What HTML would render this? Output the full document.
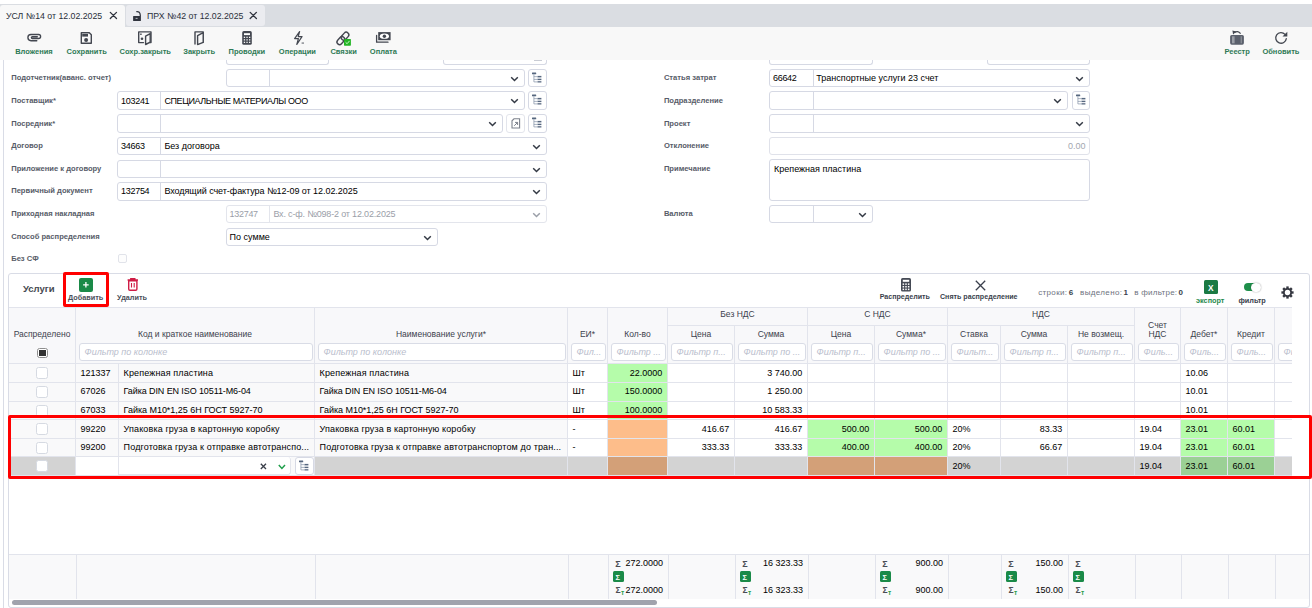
<!DOCTYPE html>
<html><head><meta charset="utf-8">
<style>
*{box-sizing:border-box;margin:0;padding:0}
html,body{width:1312px;height:608px;overflow:hidden;background:#fff;font-family:"Liberation Sans",sans-serif;color:#111}
.a{position:absolute}
.t{position:absolute;white-space:nowrap;line-height:1}
/* tabs */
#tabbar{position:absolute;left:0;top:4px;width:1312px;height:23px;background:#dadde2}
#tab1{position:absolute;left:0;top:5px;width:125px;height:22px;background:#f8f8f8;border-radius:3px 3px 0 0}
#tab2{position:absolute;left:126px;top:5px;width:139px;height:21px;background:#ebecf0;border-radius:3px}
.tabt{font-size:8.75px;color:#2a2f3a}
/* toolbar */
#toolbar{position:absolute;left:0;top:27px;width:1312px;height:33px;background:#f8f8f8}
.tbl{font-size:7.5px;font-weight:700;color:#2e7a55}
/* content */
#leftline{position:absolute;left:3px;top:60px;width:1px;height:548px;background:#d9dce6}
.lbl{font-size:7.6px;font-weight:700;color:#575c68}
.box{position:absolute;border:1px solid #d6d9e4;border-radius:3px;background:#fff}
.dv{position:absolute;top:0;bottom:0;width:1px;background:#d6d9e4}
.it{font-size:9px;color:#000}
.chev{position:absolute;width:8px;height:5px}
.hl{font-weight:400;color:#3c414d}
.fi{border:1px solid #d9dce6;border-radius:3px;background:#fff}
.ph{font-size:9px;font-style:italic;color:#b9bdcc}
.dt{font-size:9px;color:#000}
</style></head><body>
<div id="tabbar"></div>
<div id="tab1"></div>
<div id="tab2"></div>
<div class="t tabt" style="left:6px;top:12px">УСЛ №14 от 12.02.2025</div>
<div class="t tabt" style="left:147px;top:12px">ПРХ №42 от 12.02.2025</div>

<svg class="a" style="left:0;top:0" width="400" height="30" viewBox="0 0 400 30">
<g stroke="#2f333d" stroke-width="1.3" stroke-linecap="round">
<path d="M110.3 12.4 L116.5 18.5 M116.5 12.4 L110.3 18.5"/>
<path d="M250.2 12.4 L256.4 18.5 M256.4 12.4 L250.2 18.5"/>
</g>
<rect x="133.1" y="16" width="7.8" height="4.9" rx="0.5" fill="#2f333d"/>
<rect x="135.6" y="17.9" width="2" height="0.9" fill="#c8cad0"/>
<path d="M136.3 11.6 q3.8 -0.6 4 3.8 v1" fill="none" stroke="#2f333d" stroke-width="1.2"/>
</svg>
<div id="toolbar"></div>
<div id="leftline"></div>
<div class="t tbl" style="left:15.2px;top:47.9px">Вложения</div>
<div class="t tbl" style="left:66.6px;top:47.9px">Сохранить</div>
<div class="t tbl" style="left:119.5px;top:47.9px">Сохр.закрыть</div>
<div class="t tbl" style="left:183.2px;top:47.9px">Закрыть</div>
<div class="t tbl" style="left:228.5px;top:47.9px">Проводки</div>
<div class="t tbl" style="left:278.8px;top:47.9px">Операции</div>
<div class="t tbl" style="left:330.4px;top:47.9px">Связки</div>
<div class="t tbl" style="left:369.8px;top:47.9px">Оплата</div>
<div class="t tbl" style="left:1224.4px;top:47.9px">Реестр</div>
<div class="t tbl" style="left:1262.4px;top:47.9px">Обновить</div>
<svg class="a" style="left:0;top:0" width="1312" height="608" viewBox="0 0 1312 608">
<g fill="none" stroke="#434750" stroke-width="1.4" stroke-linecap="round" stroke-linejoin="round">
 <!-- paperclip -->
 <path d="M36.8 40.7 H31 a3.1 3.1 0 0 1 0 -6.2 H38.6 a2 2 0 0 1 0 4 H32.3 a0.9 0.9 0 0 1 0 -1.8 H37.3" stroke-width="1.35"/>
 <!-- save -->
 <path d="M81.3 32.7 H89.3 L91.3 34.7 V43.2 H81.3 Z"/>
 <!-- sohr zakryt frame -->
 <path d="M143.5 42.6 H138.7 V31.9 H151 V42.6 H149.8"/>
 <path d="M145.6 36.1 L150.2 33.6 V42.2 L145.6 44.5 Z" fill="#f8f8f8"/>
 <!-- zakryt -->
 <path d="M195 44 V31.9 H203.2 V42.3"/>
 <path d="M197.6 35.6 L203.2 32.6 V42.3 L197.6 44.6 Z" fill="#f8f8f8"/>
 <!-- bolt -->
 <path d="M299.6 31.6 L294.6 38.6 H298.4 L296.8 44.5 L302 36.6 H298.2 Z" stroke-width="1.2"/>
 <!-- link -->
 <rect x="-4.4" y="-2.6" width="8.8" height="5.2" rx="2.6" transform="translate(345 36.2) rotate(-48)" stroke-width="1.4"/>
 <rect x="-4.4" y="-2.6" width="8.8" height="5.2" rx="2.6" transform="translate(340.8 40.6) rotate(-48)" stroke-width="1.4"/>
 <!-- money back -->
 <path d="M376.6 35.5 V42.2 H388" stroke-width="1.3"/>
 <!-- refresh -->
 <path d="M1286.3 38.6 a5.3 5.3 0 1 1 -1.3 -4.2" stroke-width="1.3"/>
</g>
<g fill="#434750">
 <rect x="82.2" y="34" width="5.8" height="2.6"/>
 <circle cx="86.1" cy="40" r="2"/>
 <!-- sohr.zakryt inner save -->
 <rect x="140" y="33.6" width="1.8" height="1.2"/>
 <circle cx="142" cy="38.8" r="1.3"/>
 <!-- calc -->
 <rect x="242.2" y="31.1" width="9.6" height="13.7" rx="1.6"/>
 <rect x="301.6" y="42.6" width="2.4" height="0.9"/>
 <!-- money front -->
 <rect x="378.2" y="32.1" width="12.4" height="8.1"/>
 <!-- reestr -->
 <rect x="1230.1" y="35" width="13.8" height="9.7" rx="1.6" fill="#5b606c"/>
 <path d="M1232.4 30.6 L1236.3 31.5 L1233.1 34.5 Z"/>
 <path d="M1234.6 32.6 Q1237.6 30 1240.6 33.7" fill="none" stroke="#434750" stroke-width="1.3"/>
 <path d="M1287.3 31.8 v4.8 h-4.8 z"/>
</g>
<g fill="#f8f8f8">
 <rect x="244" y="33.2" width="6" height="1.9" fill="#fff"/>
 <rect x="243.8" y="36.7" width="1.3" height="1.3"/><rect x="246.4" y="36.7" width="1.3" height="1.3"/><rect x="249" y="36.7" width="1.3" height="1.3"/>
 <rect x="243.8" y="39.2" width="1.3" height="1.3"/><rect x="246.4" y="39.2" width="1.3" height="1.3"/><rect x="249" y="39.2" width="1.3" height="1.3"/>
 <rect x="243.8" y="41.7" width="1.3" height="1.3"/><rect x="246.4" y="41.7" width="1.3" height="1.3"/><rect x="249" y="41.7" width="1.3" height="1.3"/>
 <ellipse cx="384.4" cy="36.2" rx="4.6" ry="2.6" fill="#fff"/>
 <rect x="1232" y="36.3" width="2.6" height="7" fill="#9a9ea6"/>
 <rect x="1240.7" y="36.3" width="1" height="7" fill="#9a9ea6"/>
</g>
<circle cx="384.4" cy="36.2" r="1.7" fill="#434750"/>
<rect x="344" y="38.9" width="6.9" height="6.8" rx="0.6" fill="#22b524"/>
<path d="M345.6 42.3 l1.5 1.4 l2.4 -2.8" fill="none" stroke="#c9f5c9" stroke-width="1"/>
</svg>


<div class="box" style="left:226px;top:60px;width:103px;height:5px;border-top:none;border-radius:0 0 3px 3px"></div>
<div class="box" style="left:443px;top:60px;width:104px;height:5px;border-top:none;border-radius:0 0 3px 3px"></div>
<div class="box" style="left:769px;top:60px;width:104px;height:5px;border-top:none;border-radius:0 0 3px 3px"></div>
<div class="box" style="left:987px;top:60px;width:103px;height:5px;border-top:none;border-radius:0 0 3px 3px"></div>
<div class="a" style="left:533.5px;top:59.6px;width:8px;height:0.9px;background:#c9ccd4"></div>
<div class="t lbl" style="left:11.20px;top:74.04px;font-size:7.6px;">Подотчетник(аванс. отчет)</div>
<div class="t lbl" style="left:11.20px;top:97.04px;font-size:7.6px;">Поставщик*</div>
<div class="t lbl" style="left:11.20px;top:120.04px;font-size:7.6px;">Посредник*</div>
<div class="t lbl" style="left:11.20px;top:142.04px;font-size:7.6px;">Договор</div>
<div class="t lbl" style="left:11.20px;top:165.04px;font-size:7.6px;">Приложение к договору</div>
<div class="t lbl" style="left:11.20px;top:187.04px;font-size:7.6px;">Первичный документ</div>
<div class="t lbl" style="left:11.20px;top:210.04px;font-size:7.6px;">Приходная накладная</div>
<div class="t lbl" style="left:11.20px;top:233.04px;font-size:7.6px;">Способ распределения</div>
<div class="t lbl" style="left:11.20px;top:255.04px;font-size:7.6px;">Без СФ</div>
<div class="box" style="left:226px;top:69px;width:299px;height:18px;"></div>
<div class="a" style="left:269px;top:69px;width:1px;height:18px;background:#d6d9e4"></div>
<svg class="a" style="left:510.00px;top:75.60px" width="9" height="6" viewBox="0 0 9 6"><path d="M1.2 1.3 L4.5 4.5 L7.8 1.3" fill="none" stroke="#333944" stroke-width="1.5"/></svg>
<div class="box" style="left:528px;top:69px;width:19px;height:18px;"></div>
<svg class="a" style="left:531.70px;top:72.40px" width="11" height="12" viewBox="0 0 11 12"><g fill="#56677f"><rect x="0" y="0.6" width="4.2" height="1.6" rx="0.3"/><rect x="5.5" y="3.9" width="3.9" height="1.5"/><rect x="5.5" y="6.7" width="3.9" height="1.4"/><rect x="5.5" y="9.2" width="3.9" height="1.3"/></g><g stroke="#8391a6" stroke-width="0.7" fill="none"><path d="M1.9 2.2 V9.9 H5.5 M1.9 4.65 H5.5 M1.9 7.4 H5.5"/></g></svg>
<div class="box" style="left:117px;top:91px;width:408px;height:19px;"></div>
<div class="a" style="left:160px;top:91px;width:1px;height:19px;background:#d6d9e4"></div>
<svg class="a" style="left:510.00px;top:98.10px" width="9" height="6" viewBox="0 0 9 6"><path d="M1.2 1.3 L4.5 4.5 L7.8 1.3" fill="none" stroke="#333944" stroke-width="1.5"/></svg>
<div class="box" style="left:528px;top:91px;width:19px;height:19px;"></div>
<svg class="a" style="left:531.70px;top:94.40px" width="11" height="12" viewBox="0 0 11 12"><g fill="#56677f"><rect x="0" y="0.6" width="4.2" height="1.6" rx="0.3"/><rect x="5.5" y="3.9" width="3.9" height="1.5"/><rect x="5.5" y="6.7" width="3.9" height="1.4"/><rect x="5.5" y="9.2" width="3.9" height="1.3"/></g><g stroke="#8391a6" stroke-width="0.7" fill="none"><path d="M1.9 2.2 V9.9 H5.5 M1.9 4.65 H5.5 M1.9 7.4 H5.5"/></g></svg>
<div class="t it" style="left:121.10px;top:96.85px;font-size:9px;letter-spacing:-0.3px">103241</div>
<div class="t it" style="left:164.40px;top:96.85px;font-size:9px;letter-spacing:-0.4px">СПЕЦИАЛЬНЫЕ МАТЕРИАЛЫ ООО</div>
<div class="box" style="left:117px;top:114px;width:386px;height:19px;"></div>
<div class="a" style="left:160px;top:114px;width:1px;height:19px;background:#d6d9e4"></div>
<svg class="a" style="left:488.10px;top:121.10px" width="9" height="6" viewBox="0 0 9 6"><path d="M1.2 1.3 L4.5 4.5 L7.8 1.3" fill="none" stroke="#333944" stroke-width="1.5"/></svg>
<div class="box" style="left:506px;top:114px;width:19px;height:19px;border-color:#e3e5ec"></div>
<svg class="a" style="left:510.5px;top:117.60px" width="10" height="11" viewBox="0 0 10 11"><path d="M3 0.8 H8.6 V10 H1 V2.8 Z" fill="none" stroke="#7d828d" stroke-width="1.1"/><path d="M3.2 7.8 L6.6 4.4 M4 4.4 H6.6 V7" fill="none" stroke="#7d828d" stroke-width="1"/></svg>
<div class="box" style="left:528px;top:114px;width:19px;height:19px;"></div>
<svg class="a" style="left:531.70px;top:117.40px" width="11" height="12" viewBox="0 0 11 12"><g fill="#56677f"><rect x="0" y="0.6" width="4.2" height="1.6" rx="0.3"/><rect x="5.5" y="3.9" width="3.9" height="1.5"/><rect x="5.5" y="6.7" width="3.9" height="1.4"/><rect x="5.5" y="9.2" width="3.9" height="1.3"/></g><g stroke="#8391a6" stroke-width="0.7" fill="none"><path d="M1.9 2.2 V9.9 H5.5 M1.9 4.65 H5.5 M1.9 7.4 H5.5"/></g></svg>
<div class="box" style="left:117px;top:137px;width:430px;height:18px;"></div>
<div class="a" style="left:160px;top:137px;width:1px;height:18px;background:#d6d9e4"></div>
<svg class="a" style="left:531.80px;top:143.60px" width="9" height="6" viewBox="0 0 9 6"><path d="M1.2 1.3 L4.5 4.5 L7.8 1.3" fill="none" stroke="#333944" stroke-width="1.5"/></svg>
<div class="t it" style="left:121.10px;top:141.85px;font-size:9px;letter-spacing:-0.3px">34663</div>
<div class="t it" style="left:164.40px;top:141.85px;font-size:9px;">Без договора</div>
<div class="box" style="left:117px;top:160px;width:430px;height:18px;"></div>
<div class="a" style="left:160px;top:160px;width:1px;height:18px;background:#d6d9e4"></div>
<svg class="a" style="left:531.80px;top:166.60px" width="9" height="6" viewBox="0 0 9 6"><path d="M1.2 1.3 L4.5 4.5 L7.8 1.3" fill="none" stroke="#333944" stroke-width="1.5"/></svg>
<div class="box" style="left:117px;top:182px;width:430px;height:19px;"></div>
<div class="a" style="left:160px;top:182px;width:1px;height:19px;background:#d6d9e4"></div>
<svg class="a" style="left:531.80px;top:189.10px" width="9" height="6" viewBox="0 0 9 6"><path d="M1.2 1.3 L4.5 4.5 L7.8 1.3" fill="none" stroke="#333944" stroke-width="1.5"/></svg>
<div class="t it" style="left:121.10px;top:186.85px;font-size:9px;letter-spacing:-0.3px">132754</div>
<div class="t it" style="left:164.40px;top:186.85px;font-size:9px;letter-spacing:-0.05px">Входящий счет-фактура №12-09 от 12.02.2025</div>
<div class="box" style="left:226px;top:205px;width:321px;height:18px;border-color:#e3e5ec"></div>
<div class="a" style="left:269px;top:205px;width:1px;height:18px;background:#e3e5ec"></div>
<svg class="a" style="left:531.80px;top:211.60px" width="9" height="6" viewBox="0 0 9 6"><path d="M1.2 1.3 L4.5 4.5 L7.8 1.3" fill="none" stroke="#9a9fa8" stroke-width="1.5"/></svg>
<div class="t it" style="left:229.60px;top:209.85px;font-size:9px;letter-spacing:-0.3px;color:#9a9ea8">132747</div>
<div class="t it" style="left:273.40px;top:209.85px;font-size:9px;color:#9a9ea8;letter-spacing:-0.17px">Вх. с-ф. №098-2 от 12.02.2025</div>
<div class="box" style="left:226px;top:228px;width:212px;height:18px;"></div>
<svg class="a" style="left:422.80px;top:234.60px" width="9" height="6" viewBox="0 0 9 6"><path d="M1.2 1.3 L4.5 4.5 L7.8 1.3" fill="none" stroke="#333944" stroke-width="1.5"/></svg>
<div class="t it" style="left:229.60px;top:232.85px;font-size:9px;">По сумме</div>
<div class="a" style="left:118px;top:254px;width:9px;height:9.4px;border:1px solid #e1e3ea;border-radius:2px;background:#fdfdfd"></div>
<div class="t lbl" style="left:663.90px;top:74.04px;font-size:7.6px;">Статья затрат</div>
<div class="t lbl" style="left:663.90px;top:97.04px;font-size:7.6px;">Подразделение</div>
<div class="t lbl" style="left:663.90px;top:120.04px;font-size:7.6px;">Проект</div>
<div class="t lbl" style="left:663.90px;top:142.04px;font-size:7.6px;">Отклонение</div>
<div class="t lbl" style="left:663.90px;top:165.04px;font-size:7.6px;">Примечание</div>
<div class="t lbl" style="left:663.90px;top:210.24px;font-size:7.6px;">Валюта</div>
<div class="box" style="left:769px;top:69px;width:321px;height:18px;"></div>
<div class="a" style="left:813px;top:69px;width:1px;height:18px;background:#d6d9e4"></div>
<svg class="a" style="left:1074.80px;top:75.60px" width="9" height="6" viewBox="0 0 9 6"><path d="M1.2 1.3 L4.5 4.5 L7.8 1.3" fill="none" stroke="#333944" stroke-width="1.5"/></svg>
<div class="t it" style="left:773.00px;top:73.85px;font-size:9px;letter-spacing:-0.3px">66642</div>
<div class="t it" style="left:816.30px;top:73.85px;font-size:9px;">Транспортные услуги 23 счет</div>
<div class="box" style="left:769px;top:91px;width:299px;height:19px;"></div>
<div class="a" style="left:813px;top:91px;width:1px;height:19px;background:#d6d9e4"></div>
<svg class="a" style="left:1052.80px;top:98.10px" width="9" height="6" viewBox="0 0 9 6"><path d="M1.2 1.3 L4.5 4.5 L7.8 1.3" fill="none" stroke="#333944" stroke-width="1.5"/></svg>
<div class="box" style="left:1072px;top:91px;width:18px;height:19px;"></div>
<svg class="a" style="left:1075.70px;top:94.40px" width="11" height="12" viewBox="0 0 11 12"><g fill="#56677f"><rect x="0" y="0.6" width="4.2" height="1.6" rx="0.3"/><rect x="5.5" y="3.9" width="3.9" height="1.5"/><rect x="5.5" y="6.7" width="3.9" height="1.4"/><rect x="5.5" y="9.2" width="3.9" height="1.3"/></g><g stroke="#8391a6" stroke-width="0.7" fill="none"><path d="M1.9 2.2 V9.9 H5.5 M1.9 4.65 H5.5 M1.9 7.4 H5.5"/></g></svg>
<div class="box" style="left:769px;top:114px;width:321px;height:19px;"></div>
<div class="a" style="left:813px;top:114px;width:1px;height:19px;background:#d6d9e4"></div>
<svg class="a" style="left:1074.80px;top:121.10px" width="9" height="6" viewBox="0 0 9 6"><path d="M1.2 1.3 L4.5 4.5 L7.8 1.3" fill="none" stroke="#333944" stroke-width="1.5"/></svg>
<div class="box" style="left:769px;top:137px;width:321px;height:18px;border-color:#e0e2ea"></div>
<div class="t it" style="right:226.40px;top:141.85px;font-size:9px;color:#a3a7b0">0.00</div>
<div class="box" style="left:769px;top:159px;width:321px;height:42px;"></div>
<div class="t it" style="left:774.00px;top:165.15px;font-size:9px;">Крепежная пластина</div>
<div class="box" style="left:769px;top:205px;width:104px;height:18px;"></div>
<div class="a" style="left:813px;top:205px;width:1px;height:18px;background:#d6d9e4"></div>
<svg class="a" style="left:857.80px;top:211.60px" width="9" height="6" viewBox="0 0 9 6"><path d="M1.2 1.3 L4.5 4.5 L7.8 1.3" fill="none" stroke="#333944" stroke-width="1.5"/></svg>
<div class="a" style="left:8px;top:273px;width:1302px;height:335px;border:1px solid #d9dce6;border-radius:3px;background:#fff"></div>
<div class="t " style="left:23.00px;top:284.43px;font-size:9.5px;color:#45484f;font-weight:700">Услуги</div>
<div class="a" style="left:79px;top:278.2px;width:13.8px;height:13.6px;background:#1a8a48;border-radius:2px"></div>
<svg class="a" style="left:79px;top:278.2px" width="14" height="14" viewBox="0 0 14 14"><path d="M6.9 4 V9.6 M4.1 6.8 H9.7" stroke="#fff" stroke-width="1.3"/></svg>
<div class="t " style="left:68.00px;top:294.40px;font-size:7.3px;font-weight:700;color:#4a4f5a">Добавить</div>
<div class="t " style="left:117.10px;top:294.40px;font-size:7.3px;font-weight:700;color:#4a4f5a">Удалить</div>
<svg class="a" style="left:127.2px;top:278.2px" width="12" height="13" viewBox="0 0 12 13"><path d="M0.6 2 H11 M3.8 1.6 V0.8 H7.8 V1.6" fill="none" stroke="#cf1c45" stroke-width="1.4"/><path d="M1.7 2.8 H9.9 V11 Q9.9 12.2 8.7 12.2 H2.9 Q1.7 12.2 1.7 11 Z" fill="none" stroke="#cf1c45" stroke-width="1.4"/><path d="M4.5 4.9 V9.5 M7.2 4.9 V9.5" stroke="#cf1c45" stroke-width="1.1"/></svg>
<svg class="a" style="left:900.8px;top:278.2px" width="10" height="14" viewBox="0 0 10 14"><rect x="0" y="0" width="10" height="13.6" rx="1.6" fill="#454a55"/><rect x="1.8" y="1.8" width="6.4" height="2" fill="#fff"/><g fill="#fff"><rect x="1.6" y="5.4" width="1.5" height="1.5"/><rect x="4.25" y="5.4" width="1.5" height="1.5"/><rect x="6.9" y="5.4" width="1.5" height="1.5"/><rect x="1.6" y="8" width="1.5" height="1.5"/><rect x="4.25" y="8" width="1.5" height="1.5"/><rect x="6.9" y="8" width="1.5" height="1.5"/><rect x="1.6" y="10.6" width="1.5" height="1.5"/><rect x="4.25" y="10.6" width="1.5" height="1.5"/><rect x="6.9" y="10.6" width="1.5" height="1.5"/></g></svg>
<div class="t " style="left:879.70px;top:294.46px;font-size:7.1px;font-weight:700;color:#3a3f4c">Распределить</div>
<svg class="a" style="left:974.5px;top:279.6px" width="11" height="11" viewBox="0 0 11 11"><path d="M0.8 0.8 L10.2 10.2 M10.2 0.8 L0.8 10.2" stroke="#3a3f4c" stroke-width="1.3"/></svg>
<div class="t " style="left:940.00px;top:294.46px;font-size:7.1px;font-weight:700;color:#3a3f4c">Снять распределение</div>
<div class="t " style="left:1038.20px;top:289.10px;font-size:8px;color:#6e727e;letter-spacing:0.35px">строки:</div>
<div class="t " style="left:1068.80px;top:289.10px;font-size:8px;font-weight:700;color:#3a3f4c">6</div>
<div class="t " style="left:1080.10px;top:289.10px;font-size:8px;color:#6e727e;letter-spacing:0.35px">выделено:</div>
<div class="t " style="left:1123.60px;top:289.10px;font-size:8px;font-weight:700;color:#3a3f4c">1</div>
<div class="t " style="left:1134.30px;top:289.10px;font-size:8px;color:#6e727e;letter-spacing:0.25px">в фильтре:</div>
<div class="t " style="left:1178.40px;top:289.10px;font-size:8px;font-weight:700;color:#3a3f4c">0</div>
<div class="a" style="left:1204.1px;top:280.2px;width:13.6px;height:13.5px;background:#1b7a43;border-radius:1.5px"></div>
<div class="t " style="left:1208.10px;top:283.75px;font-size:8.3px;color:#fff;font-weight:700">X</div>
<div class="t " style="left:1196.00px;top:296.50px;font-size:7.3px;font-weight:700;color:#1f8a4c">экспорт</div>
<div class="a" style="left:1244px;top:283.2px;width:15px;height:8.3px;background:#1e8f4a;border-radius:4.2px"></div>
<div class="a" style="left:1251.4px;top:282.6px;width:9.4px;height:9.4px;background:#fff;border-radius:50%;box-shadow:0 0 1.5px rgba(0,0,0,.45)"></div>
<div class="t " style="left:1238.40px;top:296.50px;font-size:7.3px;font-weight:700;color:#3a3f4c">фильтр</div>
<svg class="a" style="left:1280.9px;top:285.9px" width="13" height="13" viewBox="-6.5 -6.5 13 13"><g fill="#353840"><circle r="4.6"/><rect x="-1.2" y="-6.1" width="2.4" height="3" transform="rotate(0)"/><rect x="-1.2" y="-6.1" width="2.4" height="3" transform="rotate(45)"/><rect x="-1.2" y="-6.1" width="2.4" height="3" transform="rotate(90)"/><rect x="-1.2" y="-6.1" width="2.4" height="3" transform="rotate(135)"/><rect x="-1.2" y="-6.1" width="2.4" height="3" transform="rotate(180)"/><rect x="-1.2" y="-6.1" width="2.4" height="3" transform="rotate(225)"/><rect x="-1.2" y="-6.1" width="2.4" height="3" transform="rotate(270)"/><rect x="-1.2" y="-6.1" width="2.4" height="3" transform="rotate(315)"/></g><circle r="2.7" fill="#fff"/></svg>
<div class="a" style="left:9px;top:307px;width:1283px;height:1px;background:#e2e4ec"></div>
<div class="a" style="left:9px;top:308px;width:1283px;height:55px;background:#f8f8fa"></div>
<div class="a" style="left:668px;top:325px;width:466px;height:1px;background:#e2e4ec"></div>
<div class="a" style="left:75px;top:308px;width:1px;height:55px;background:#e2e4ec"></div>
<div class="a" style="left:314px;top:308px;width:1px;height:55px;background:#e2e4ec"></div>
<div class="a" style="left:567px;top:308px;width:1px;height:55px;background:#e2e4ec"></div>
<div class="a" style="left:607px;top:308px;width:1px;height:55px;background:#e2e4ec"></div>
<div class="a" style="left:667px;top:308px;width:1px;height:55px;background:#e2e4ec"></div>
<div class="a" style="left:734px;top:326px;width:1px;height:37px;background:#e2e4ec"></div>
<div class="a" style="left:807px;top:308px;width:1px;height:55px;background:#e2e4ec"></div>
<div class="a" style="left:874px;top:326px;width:1px;height:37px;background:#e2e4ec"></div>
<div class="a" style="left:947px;top:308px;width:1px;height:55px;background:#e2e4ec"></div>
<div class="a" style="left:1000px;top:326px;width:1px;height:37px;background:#e2e4ec"></div>
<div class="a" style="left:1067px;top:326px;width:1px;height:37px;background:#e2e4ec"></div>
<div class="a" style="left:1134px;top:308px;width:1px;height:55px;background:#e2e4ec"></div>
<div class="a" style="left:1180px;top:308px;width:1px;height:55px;background:#e2e4ec"></div>
<div class="a" style="left:1227px;top:308px;width:1px;height:55px;background:#e2e4ec"></div>
<div class="a" style="left:1274px;top:308px;width:1px;height:55px;background:#e2e4ec"></div>
<div class="a" style="left:9px;top:363px;width:1283px;height:1px;background:#e2e4ec"></div>
<div class="t hl" style="left:-58.00px;width:200px;text-align:center;top:330.27px;font-size:8.5px;">Распределено</div>
<div class="t hl" style="left:95.00px;width:200px;text-align:center;top:330.27px;font-size:8.5px;">Код и краткое наименование</div>
<div class="t hl" style="left:341.00px;width:200px;text-align:center;top:330.27px;font-size:8.5px;">Наименование услуги*</div>
<div class="t hl" style="left:487.50px;width:200px;text-align:center;top:330.27px;font-size:8.5px;">ЕИ*</div>
<div class="t hl" style="left:537.50px;width:200px;text-align:center;top:330.27px;font-size:8.5px;">Кол-во</div>
<div class="t hl" style="left:637.50px;width:200px;text-align:center;top:310.27px;font-size:8.5px;">Без НДС</div>
<div class="t hl" style="left:777.50px;width:200px;text-align:center;top:310.27px;font-size:8.5px;">С НДС</div>
<div class="t hl" style="left:941.00px;width:200px;text-align:center;top:310.27px;font-size:8.5px;">НДС</div>
<div class="t hl" style="left:601.00px;width:200px;text-align:center;top:330.27px;font-size:8.5px;">Цена</div>
<div class="t hl" style="left:671.00px;width:200px;text-align:center;top:330.27px;font-size:8.5px;">Сумма</div>
<div class="t hl" style="left:741.00px;width:200px;text-align:center;top:330.27px;font-size:8.5px;">Цена</div>
<div class="t hl" style="left:811.00px;width:200px;text-align:center;top:330.27px;font-size:8.5px;">Сумма*</div>
<div class="t hl" style="left:874.00px;width:200px;text-align:center;top:330.27px;font-size:8.5px;">Ставка</div>
<div class="t hl" style="left:934.00px;width:200px;text-align:center;top:330.27px;font-size:8.5px;">Сумма</div>
<div class="t hl" style="left:1001.00px;width:200px;text-align:center;top:330.27px;font-size:8.5px;">Не возмещ.</div>
<div class="t hl" style="left:1057.50px;width:200px;text-align:center;top:320.77px;font-size:8.5px;">Счет</div>
<div class="t hl" style="left:1057.50px;width:200px;text-align:center;top:330.27px;font-size:8.5px;">НДС</div>
<div class="t hl" style="left:1104.00px;width:200px;text-align:center;top:330.27px;font-size:8.5px;">Дебет*</div>
<div class="t hl" style="left:1151.00px;width:200px;text-align:center;top:330.27px;font-size:8.5px;">Кредит</div>
<div class="a" style="left:37px;top:348px;width:11px;height:10px;border:1px solid #8e8e8e;border-radius:2.5px;background:#fff"></div>
<div class="a" style="left:39.2px;top:349.9px;width:6.6px;height:6px;background:#333"></div>
<div class="a" style="left:9px;top:300px;width:1283px;height:70px;overflow:hidden">
<div class="a fi" style="left:70px;top:43px;width:234px;height:18px"></div>
<div class="t ph" style="left:75.50px;top:47.85px">Фильтр по колонке</div>
<div class="a fi" style="left:309px;top:43px;width:248px;height:18px"></div>
<div class="t ph" style="left:314.50px;top:47.85px">Фильтр по колонке</div>
<div class="a fi" style="left:562px;top:43px;width:35px;height:18px"></div>
<div class="t ph" style="left:567.50px;top:47.85px">Фил...</div>
<div class="a fi" style="left:602px;top:43px;width:55px;height:18px"></div>
<div class="t ph" style="left:607.50px;top:47.85px">Фильтр ...</div>
<div class="a fi" style="left:662px;top:43px;width:62px;height:18px"></div>
<div class="t ph" style="left:667.50px;top:47.85px">Фильтр п...</div>
<div class="a fi" style="left:729px;top:43px;width:68px;height:18px"></div>
<div class="t ph" style="left:734.50px;top:47.85px">Фильтр по ...</div>
<div class="a fi" style="left:802px;top:43px;width:62px;height:18px"></div>
<div class="t ph" style="left:807.50px;top:47.85px">Фильтр п...</div>
<div class="a fi" style="left:869px;top:43px;width:68px;height:18px"></div>
<div class="t ph" style="left:874.50px;top:47.85px">Фильтр по ...</div>
<div class="a fi" style="left:942px;top:43px;width:48px;height:18px"></div>
<div class="t ph" style="left:947.50px;top:47.85px">Фильт...</div>
<div class="a fi" style="left:995px;top:43px;width:62px;height:18px"></div>
<div class="t ph" style="left:1000.50px;top:47.85px">Фильтр п...</div>
<div class="a fi" style="left:1062px;top:43px;width:62px;height:18px"></div>
<div class="t ph" style="left:1067.50px;top:47.85px">Фильтр п...</div>
<div class="a fi" style="left:1129px;top:43px;width:41px;height:18px"></div>
<div class="t ph" style="left:1134.50px;top:47.85px">Филь...</div>
<div class="a fi" style="left:1175px;top:43px;width:42px;height:18px"></div>
<div class="t ph" style="left:1180.50px;top:47.85px">Филь...</div>
<div class="a fi" style="left:1222px;top:43px;width:42px;height:18px"></div>
<div class="t ph" style="left:1227.50px;top:47.85px">Филь...</div>
<div class="a fi" style="left:1269px;top:43px;width:51px;height:18px"></div>
<div class="t ph" style="left:1274.50px;top:47.85px">Фи</div>
</div>
<div class="a" style="left:9px;top:364px;width:66px;height:18px;background:#f9f9fa"></div>
<div class="a" style="left:76px;top:364px;width:42px;height:18px;background:#f9f9fa"></div>
<div class="a" style="left:119px;top:364px;width:195px;height:18px;background:#f9f9fa"></div>
<div class="a" style="left:315px;top:364px;width:252px;height:18px;background:#f9f9fa"></div>
<div class="a" style="left:608px;top:364px;width:59px;height:18px;background:#b5fcaa"></div>
<div class="t dt" style="left:80.60px;top:368.85px;font-size:9px;">121337</div>
<div class="t dt" style="left:123.60px;top:368.85px;font-size:9px;letter-spacing:0.13px">Крепежная пластина</div>
<div class="t dt" style="left:319.60px;top:368.85px;font-size:9px;letter-spacing:0.13px">Крепежная пластина</div>
<div class="t dt" style="left:572.60px;top:368.85px;font-size:9px;">Шт</div>
<div class="t dt" style="right:649.80px;top:368.85px;font-size:9px;">22.0000</div>
<div class="t dt" style="right:509.80px;top:368.85px;font-size:9px;">3 740.00</div>
<div class="t dt" style="left:1185.60px;top:368.85px;font-size:9px;">10.06</div>
<div class="a" style="left:36px;top:367px;width:12px;height:12px;border:1px solid #d6dae2;border-radius:2.5px;background:#fff"></div>
<div class="a" style="left:9px;top:382px;width:1283px;height:1px;background:#e2e4ec"></div>
<div class="a" style="left:9px;top:383px;width:66px;height:18px;background:#f9f9fa"></div>
<div class="a" style="left:76px;top:383px;width:42px;height:18px;background:#f9f9fa"></div>
<div class="a" style="left:119px;top:383px;width:195px;height:18px;background:#f9f9fa"></div>
<div class="a" style="left:315px;top:383px;width:252px;height:18px;background:#f9f9fa"></div>
<div class="a" style="left:608px;top:383px;width:59px;height:18px;background:#b5fcaa"></div>
<div class="t dt" style="left:80.60px;top:386.85px;font-size:9px;">67026</div>
<div class="t dt" style="left:123.60px;top:386.85px;font-size:9px;letter-spacing:-0.1px">Гайка DIN EN ISO 10511-M6-04</div>
<div class="t dt" style="left:319.60px;top:386.85px;font-size:9px;letter-spacing:-0.1px">Гайка DIN EN ISO 10511-M6-04</div>
<div class="t dt" style="left:572.60px;top:386.85px;font-size:9px;">Шт</div>
<div class="t dt" style="right:649.80px;top:386.85px;font-size:9px;">150.0000</div>
<div class="t dt" style="right:509.80px;top:386.85px;font-size:9px;">1 250.00</div>
<div class="t dt" style="left:1185.60px;top:386.85px;font-size:9px;">10.01</div>
<div class="a" style="left:36px;top:386px;width:12px;height:12px;border:1px solid #d6dae2;border-radius:2.5px;background:#fff"></div>
<div class="a" style="left:9px;top:401px;width:1283px;height:1px;background:#e2e4ec"></div>
<div class="a" style="left:9px;top:402px;width:66px;height:17px;background:#f9f9fa"></div>
<div class="a" style="left:76px;top:402px;width:42px;height:17px;background:#f9f9fa"></div>
<div class="a" style="left:119px;top:402px;width:195px;height:17px;background:#f9f9fa"></div>
<div class="a" style="left:315px;top:402px;width:252px;height:17px;background:#f9f9fa"></div>
<div class="a" style="left:608px;top:402px;width:59px;height:17px;background:#b5fcaa"></div>
<div class="t dt" style="left:80.60px;top:405.85px;font-size:9px;">67033</div>
<div class="t dt" style="left:123.60px;top:405.85px;font-size:9px;letter-spacing:-0.03px">Гайка M10*1,25 6H ГОСТ 5927-70</div>
<div class="t dt" style="left:319.60px;top:405.85px;font-size:9px;letter-spacing:-0.03px">Гайка M10*1,25 6H ГОСТ 5927-70</div>
<div class="t dt" style="left:572.60px;top:405.85px;font-size:9px;">Шт</div>
<div class="t dt" style="right:649.80px;top:405.85px;font-size:9px;">100.0000</div>
<div class="t dt" style="right:509.80px;top:405.85px;font-size:9px;">10 583.33</div>
<div class="t dt" style="left:1185.60px;top:405.85px;font-size:9px;">10.01</div>
<div class="a" style="left:36px;top:405px;width:12px;height:12px;border:1px solid #d6dae2;border-radius:2.5px;background:#fff"></div>
<div class="a" style="left:9px;top:419px;width:1283px;height:1px;background:#e2e4ec"></div>
<div class="a" style="left:9px;top:420px;width:66px;height:18px;background:#f9f9fa"></div>
<div class="a" style="left:76px;top:420px;width:42px;height:18px;background:#f9f9fa"></div>
<div class="a" style="left:119px;top:420px;width:195px;height:18px;background:#f9f9fa"></div>
<div class="a" style="left:315px;top:420px;width:252px;height:18px;background:#f9f9fa"></div>
<div class="a" style="left:608px;top:420px;width:59px;height:18px;background:#fdbd8a"></div>
<div class="a" style="left:808px;top:420px;width:66px;height:18px;background:#b5fcaa"></div>
<div class="a" style="left:875px;top:420px;width:72px;height:18px;background:#b5fcaa"></div>
<div class="a" style="left:1181px;top:420px;width:46px;height:18px;background:#b5fcaa"></div>
<div class="a" style="left:1228px;top:420px;width:46px;height:18px;background:#b5fcaa"></div>
<div class="t dt" style="left:80.60px;top:424.85px;font-size:9px;">99220</div>
<div class="t dt" style="left:123.60px;top:424.85px;font-size:9px;letter-spacing:0.13px">Упаковка груза в картонную коробку</div>
<div class="t dt" style="left:319.60px;top:424.85px;font-size:9px;letter-spacing:0.13px">Упаковка груза в картонную коробку</div>
<div class="t dt" style="left:572.60px;top:424.85px;font-size:9px;">-</div>
<div class="t dt" style="right:582.80px;top:424.85px;font-size:9px;">416.67</div>
<div class="t dt" style="right:509.80px;top:424.85px;font-size:9px;">416.67</div>
<div class="t dt" style="right:442.80px;top:424.85px;font-size:9px;">500.00</div>
<div class="t dt" style="right:369.80px;top:424.85px;font-size:9px;">500.00</div>
<div class="t dt" style="left:952.60px;top:424.85px;font-size:9px;">20%</div>
<div class="t dt" style="right:249.80px;top:424.85px;font-size:9px;">83.33</div>
<div class="t dt" style="left:1139.60px;top:424.85px;font-size:9px;">19.04</div>
<div class="t dt" style="left:1185.60px;top:424.85px;font-size:9px;">23.01</div>
<div class="t dt" style="left:1232.60px;top:424.85px;font-size:9px;">60.01</div>
<div class="a" style="left:36px;top:423px;width:12px;height:12px;border:1px solid #d6dae2;border-radius:2.5px;background:#fff"></div>
<div class="a" style="left:9px;top:438px;width:1283px;height:1px;background:#e2e4ec"></div>
<div class="a" style="left:9px;top:439px;width:66px;height:17px;background:#f9f9fa"></div>
<div class="a" style="left:76px;top:439px;width:42px;height:17px;background:#f9f9fa"></div>
<div class="a" style="left:119px;top:439px;width:195px;height:17px;background:#f9f9fa"></div>
<div class="a" style="left:315px;top:439px;width:252px;height:17px;background:#f9f9fa"></div>
<div class="a" style="left:608px;top:439px;width:59px;height:17px;background:#fdbd8a"></div>
<div class="a" style="left:808px;top:439px;width:66px;height:17px;background:#b5fcaa"></div>
<div class="a" style="left:875px;top:439px;width:72px;height:17px;background:#b5fcaa"></div>
<div class="a" style="left:1181px;top:439px;width:46px;height:17px;background:#b5fcaa"></div>
<div class="a" style="left:1228px;top:439px;width:46px;height:17px;background:#b5fcaa"></div>
<div class="t dt" style="left:80.60px;top:442.85px;font-size:9px;">99200</div>
<div class="t dt" style="left:123.60px;top:442.85px;font-size:9px;letter-spacing:0.13px">Подготовка груза к отправке автотранспо...</div>
<div class="t dt" style="left:319.60px;top:442.85px;font-size:9px;letter-spacing:0.13px">Подготовка груза к отправке автотранспортом до тран...</div>
<div class="t dt" style="left:572.60px;top:442.85px;font-size:9px;">-</div>
<div class="t dt" style="right:582.80px;top:442.85px;font-size:9px;">333.33</div>
<div class="t dt" style="right:509.80px;top:442.85px;font-size:9px;">333.33</div>
<div class="t dt" style="right:442.80px;top:442.85px;font-size:9px;">400.00</div>
<div class="t dt" style="right:369.80px;top:442.85px;font-size:9px;">400.00</div>
<div class="t dt" style="left:952.60px;top:442.85px;font-size:9px;">20%</div>
<div class="t dt" style="right:249.80px;top:442.85px;font-size:9px;">66.67</div>
<div class="t dt" style="left:1139.60px;top:442.85px;font-size:9px;">19.04</div>
<div class="t dt" style="left:1185.60px;top:442.85px;font-size:9px;">23.01</div>
<div class="t dt" style="left:1232.60px;top:442.85px;font-size:9px;">60.01</div>
<div class="a" style="left:36px;top:442px;width:12px;height:12px;border:1px solid #d6dae2;border-radius:2.5px;background:#fff"></div>
<div class="a" style="left:9px;top:456px;width:1283px;height:1px;background:#e2e4ec"></div>
<div class="a" style="left:9px;top:457px;width:66px;height:18px;background:#d3d3d3"></div>
<div class="a" style="left:315px;top:457px;width:252px;height:18px;background:#d3d3d3"></div>
<div class="a" style="left:568px;top:457px;width:39px;height:18px;background:#d3d3d3"></div>
<div class="a" style="left:608px;top:457px;width:59px;height:18px;background:#d3a078"></div>
<div class="a" style="left:668px;top:457px;width:66px;height:18px;background:#d3d3d3"></div>
<div class="a" style="left:735px;top:457px;width:72px;height:18px;background:#d3d3d3"></div>
<div class="a" style="left:808px;top:457px;width:66px;height:18px;background:#d3a078"></div>
<div class="a" style="left:875px;top:457px;width:72px;height:18px;background:#d3a078"></div>
<div class="a" style="left:948px;top:457px;width:52px;height:18px;background:#d3d3d3"></div>
<div class="a" style="left:1001px;top:457px;width:66px;height:18px;background:#d3d3d3"></div>
<div class="a" style="left:1068px;top:457px;width:66px;height:18px;background:#d3d3d3"></div>
<div class="a" style="left:1135px;top:457px;width:45px;height:18px;background:#d3d3d3"></div>
<div class="a" style="left:1181px;top:457px;width:46px;height:18px;background:#9bd095"></div>
<div class="a" style="left:1228px;top:457px;width:46px;height:18px;background:#9bd095"></div>
<div class="a" style="left:1275px;top:457px;width:17px;height:18px;background:#d3d3d3"></div>
<div class="t dt" style="left:952.60px;top:461.85px;font-size:9px;">20%</div>
<div class="t dt" style="left:1139.60px;top:461.85px;font-size:9px;">19.04</div>
<div class="t dt" style="left:1185.60px;top:461.85px;font-size:9px;">23.01</div>
<div class="t dt" style="left:1232.60px;top:461.85px;font-size:9px;">60.01</div>
<div class="a" style="left:36px;top:460px;width:12px;height:12px;border:1px solid #d6dae2;border-radius:2.5px;background:#fff"></div>
<div class="a" style="left:9px;top:475px;width:1283px;height:1px;background:#e2e4ec"></div>
<div class="a" style="left:75px;top:364px;width:1px;height:111px;background:#e2e4ec"></div>
<div class="a" style="left:118px;top:364px;width:1px;height:111px;background:#e2e4ec"></div>
<div class="a" style="left:314px;top:364px;width:1px;height:111px;background:#e2e4ec"></div>
<div class="a" style="left:567px;top:364px;width:1px;height:111px;background:#e2e4ec"></div>
<div class="a" style="left:607px;top:364px;width:1px;height:111px;background:#e2e4ec"></div>
<div class="a" style="left:667px;top:364px;width:1px;height:111px;background:#e2e4ec"></div>
<div class="a" style="left:734px;top:364px;width:1px;height:111px;background:#e2e4ec"></div>
<div class="a" style="left:807px;top:364px;width:1px;height:111px;background:#e2e4ec"></div>
<div class="a" style="left:874px;top:364px;width:1px;height:111px;background:#e2e4ec"></div>
<div class="a" style="left:947px;top:364px;width:1px;height:111px;background:#e2e4ec"></div>
<div class="a" style="left:1000px;top:364px;width:1px;height:111px;background:#e2e4ec"></div>
<div class="a" style="left:1067px;top:364px;width:1px;height:111px;background:#e2e4ec"></div>
<div class="a" style="left:1134px;top:364px;width:1px;height:111px;background:#e2e4ec"></div>
<div class="a" style="left:1180px;top:364px;width:1px;height:111px;background:#e2e4ec"></div>
<div class="a" style="left:1227px;top:364px;width:1px;height:111px;background:#e2e4ec"></div>
<div class="a" style="left:1274px;top:364px;width:1px;height:111px;background:#e2e4ec"></div>
<div class="a" style="left:76px;top:457px;width:42px;height:18px;background:#fff"></div>
<div class="a" style="left:119px;top:457px;width:172px;height:18px;background:#fff;border:1px solid #e3e5ec;border-left:none;border-top:none;border-radius:0 3px 3px 0"></div>
<div class="a" style="left:291px;top:457px;width:23px;height:18px;background:#f9f9fa"></div>
<svg class="a" style="left:260.4px;top:463.3px" width="7" height="7" viewBox="0 0 7 7"><path d="M0.8 0.8 L6 6 M6 0.8 L0.8 6" stroke="#3a3f4a" stroke-width="1.3"/></svg>
<svg class="a" style="left:277.5px;top:463.6px" width="8" height="6" viewBox="0 0 8 6"><path d="M0.8 1 L3.9 4.4 L7 1" fill="none" stroke="#1e9e4a" stroke-width="1.5"/></svg>
<div class="box" style="left:295px;top:457px;width:19px;height:18px;"></div>
<svg class="a" style="left:298.70px;top:460.40px" width="11" height="12" viewBox="0 0 11 12"><g fill="#56677f"><rect x="0" y="0.6" width="4.2" height="1.6" rx="0.3"/><rect x="5.5" y="3.9" width="3.9" height="1.5"/><rect x="5.5" y="6.7" width="3.9" height="1.4"/><rect x="5.5" y="9.2" width="3.9" height="1.3"/></g><g stroke="#8391a6" stroke-width="0.7" fill="none"><path d="M1.9 2.2 V9.9 H5.5 M1.9 4.65 H5.5 M1.9 7.4 H5.5"/></g></svg>
<div class="a" style="left:9px;top:554px;width:1300px;height:45px;background:#f9f9fa"></div>
<div class="a" style="left:9px;top:554px;width:1300px;height:1px;background:#e2e4ec"></div>
<div class="a" style="left:76px;top:554px;width:1px;height:45px;background:#e2e4ec"></div>
<div class="a" style="left:315px;top:554px;width:1px;height:45px;background:#e2e4ec"></div>
<div class="a" style="left:568px;top:554px;width:1px;height:45px;background:#e2e4ec"></div>
<div class="a" style="left:608px;top:554px;width:1px;height:45px;background:#e2e4ec"></div>
<div class="a" style="left:668px;top:554px;width:1px;height:45px;background:#e2e4ec"></div>
<div class="a" style="left:735px;top:554px;width:1px;height:45px;background:#e2e4ec"></div>
<div class="a" style="left:808px;top:554px;width:1px;height:45px;background:#e2e4ec"></div>
<div class="a" style="left:875px;top:554px;width:1px;height:45px;background:#e2e4ec"></div>
<div class="a" style="left:948px;top:554px;width:1px;height:45px;background:#e2e4ec"></div>
<div class="a" style="left:1001px;top:554px;width:1px;height:45px;background:#e2e4ec"></div>
<div class="a" style="left:1068px;top:554px;width:1px;height:45px;background:#e2e4ec"></div>
<div class="a" style="left:1135px;top:554px;width:1px;height:45px;background:#e2e4ec"></div>
<div class="a" style="left:1181px;top:554px;width:1px;height:45px;background:#e2e4ec"></div>
<div class="a" style="left:1228px;top:554px;width:1px;height:45px;background:#e2e4ec"></div>
<div class="a" style="left:1275px;top:554px;width:1px;height:45px;background:#e2e4ec"></div>
<div class="t " style="left:615.30px;top:560.05px;font-size:9px;color:#4a4d54;font-weight:700">Σ</div>
<div class="a" style="left:613px;top:571px;width:11px;height:11px;background:#1a8a48;border-radius:1.5px"></div>
<div class="t " style="left:615.60px;top:573.73px;font-size:7.5px;color:#fff;font-weight:700">Σ</div>
<div class="t " style="left:615.50px;top:586.27px;font-size:8.5px;color:#4a4d54;font-weight:700">Σ</div>
<div class="t " style="left:620.90px;top:589.58px;font-size:6.5px;color:#1e9e4a;font-weight:700">т</div>
<div class="t dt" style="right:649.00px;top:558.85px;font-size:9px;">272.0000</div>
<div class="t dt" style="right:649.00px;top:585.85px;font-size:9px;">272.0000</div>
<div class="t " style="left:742.30px;top:560.05px;font-size:9px;color:#4a4d54;font-weight:700">Σ</div>
<div class="a" style="left:740px;top:571px;width:11px;height:11px;background:#1a8a48;border-radius:1.5px"></div>
<div class="t " style="left:742.60px;top:573.73px;font-size:7.5px;color:#fff;font-weight:700">Σ</div>
<div class="t " style="left:742.50px;top:586.27px;font-size:8.5px;color:#4a4d54;font-weight:700">Σ</div>
<div class="t " style="left:747.90px;top:589.58px;font-size:6.5px;color:#1e9e4a;font-weight:700">т</div>
<div class="t dt" style="right:509.00px;top:558.85px;font-size:9px;">16 323.33</div>
<div class="t dt" style="right:509.00px;top:585.85px;font-size:9px;">16 323.33</div>
<div class="t " style="left:882.30px;top:560.05px;font-size:9px;color:#4a4d54;font-weight:700">Σ</div>
<div class="a" style="left:880px;top:571px;width:11px;height:11px;background:#1a8a48;border-radius:1.5px"></div>
<div class="t " style="left:882.60px;top:573.73px;font-size:7.5px;color:#fff;font-weight:700">Σ</div>
<div class="t " style="left:882.50px;top:586.27px;font-size:8.5px;color:#4a4d54;font-weight:700">Σ</div>
<div class="t " style="left:887.90px;top:589.58px;font-size:6.5px;color:#1e9e4a;font-weight:700">т</div>
<div class="t dt" style="right:369.00px;top:558.85px;font-size:9px;">900.00</div>
<div class="t dt" style="right:369.00px;top:585.85px;font-size:9px;">900.00</div>
<div class="t " style="left:1008.30px;top:560.05px;font-size:9px;color:#4a4d54;font-weight:700">Σ</div>
<div class="a" style="left:1006px;top:571px;width:11px;height:11px;background:#1a8a48;border-radius:1.5px"></div>
<div class="t " style="left:1008.60px;top:573.73px;font-size:7.5px;color:#fff;font-weight:700">Σ</div>
<div class="t " style="left:1008.50px;top:586.27px;font-size:8.5px;color:#4a4d54;font-weight:700">Σ</div>
<div class="t " style="left:1013.90px;top:589.58px;font-size:6.5px;color:#1e9e4a;font-weight:700">т</div>
<div class="t dt" style="right:249.00px;top:558.85px;font-size:9px;">150.00</div>
<div class="t dt" style="right:249.00px;top:585.85px;font-size:9px;">150.00</div>
<div class="t " style="left:1075.30px;top:560.05px;font-size:9px;color:#4a4d54;font-weight:700">Σ</div>
<div class="a" style="left:1073px;top:571px;width:11px;height:11px;background:#1a8a48;border-radius:1.5px"></div>
<div class="t " style="left:1075.60px;top:573.73px;font-size:7.5px;color:#fff;font-weight:700">Σ</div>
<div class="t " style="left:1075.50px;top:586.27px;font-size:8.5px;color:#4a4d54;font-weight:700">Σ</div>
<div class="t " style="left:1080.90px;top:589.58px;font-size:6.5px;color:#1e9e4a;font-weight:700">т</div>
<div class="a" style="left:12px;top:600px;width:645px;height:5px;background:#a0a3ad;border-radius:2.5px"></div>
<div class="a" style="left:63px;top:272px;width:46px;height:35px;border:3px solid #f00;border-radius:2px"></div>
<div class="a" style="left:8px;top:415px;width:1304px;height:64px;border:3px solid #f00;border-radius:2px"></div>
</body></html>
